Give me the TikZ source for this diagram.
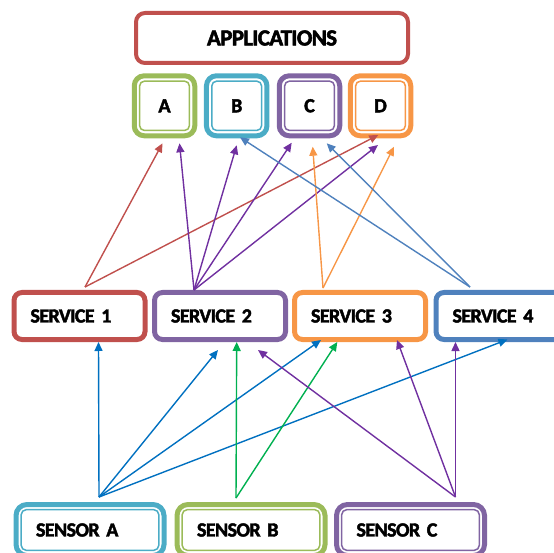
\documentclass[tikz,border=0pt]{standalone}
\usepackage{fontspec}
\setmainfont{Carlito}[BoldFeatures={FakeBold=2.2, LetterSpace=-3, WordSpace=0.6}]
\usetikzlibrary{arrows.meta}
\definecolor{offred}{HTML}{C0504D}
\definecolor{offgreen}{HTML}{9BBB59}
\definecolor{offaqua}{HTML}{4BACC6}
\definecolor{offpurple}{HTML}{8064A2}
\definecolor{offorange}{HTML}{F79646}
\definecolor{offblue}{HTML}{4F81BD}
\definecolor{arrpurple}{HTML}{7030A0}
\definecolor{arrblue}{HTML}{0070C0}
\definecolor{arrgreen}{HTML}{00B050}
\tikzset{
  boxfont/.style={font=\bfseries\fontsize{20}{24}\selectfont},
  appsbox/.style={
    draw=offred, line width=4pt, rounded corners=9pt,
    minimum width=272pt, minimum height=50pt,
    font=\bfseries\fontsize{23}{27}\selectfont
  },
  appbox/.style={
    draw=#1, line width=5pt, rounded corners=10pt,
    minimum width=60.5pt, minimum height=60pt, inner sep=0pt, boxfont,
    path picture={
      \draw[#1, line width=1.5pt, rounded corners=5pt]
        ([xshift=5.3pt,yshift=-5.3pt]path picture bounding box.north west) rectangle
        ([xshift=-5.3pt,yshift=5.3pt]path picture bounding box.south east);
    }
  },
  servicebox/.style={
    draw=#1, line width=5pt, rounded corners=8pt,
    text width=98pt, inner xsep=16.5pt, minimum height=47pt,
    align=left, boxfont
  },
  sensorbox/.style={
    draw=#1, line width=5pt, rounded corners=11pt,
    text width=108pt, inner xsep=20pt, minimum height=51pt,
    align=left, boxfont,
    path picture={
      \draw[#1, line width=1.5pt, rounded corners=5pt]
        ([xshift=5.2pt,yshift=-5.2pt]path picture bounding box.north west) rectangle
        ([xshift=-5.2pt,yshift=5.2pt]path picture bounding box.south east);
    }
  },
  link/.style={
    draw=#1, color=#1, line width=1.4pt,
    -{Triangle[length=9pt, width=8pt]}
  }
}

\begin{document}
\begin{tikzpicture}[x=1pt, y=-1pt]
  \useasboundingbox (0,0) rectangle (554,553);
  \clip (0,0) rectangle (554,553);

  % Applications
  \node[appsbox] (apps) at (272,38) {APPLICATIONS};
  \node[appbox=offgreen] (A) at (164.5,105.8) {A};
  \node[appbox=offaqua] (B) at (236.7,105.8) {B};
  \node[appbox=offpurple] (C) at (309.5,105.8) {C};
  \node[appbox=offorange] (D) at (380.5,105.8) {D};

  % Services
  \node[servicebox=offred] (s1) at (79.5,316) {SERVICE 1};
  \node[servicebox=offpurple] (s2) at (220,316) {SERVICE 2};
  \node[servicebox=offorange] (s3) at (360,316) {SERVICE 3};
  \node[servicebox=offblue] (s4) at (501.5,316) {SERVICE 4};

  % Sensors
  \node[sensorbox=offaqua] (sa) at (90,530) {SENSOR A};
  \node[sensorbox=offgreen] (sb) at (251,530) {SENSOR B};
  \node[sensorbox=offpurple] (sc) at (410.5,530) {SENSOR C};

  % Services -> applications
  \draw[link=offred] ([xshift=5.5pt,yshift=3pt]s1.north) -- ([xshift=-2pt,yshift=-5pt]A.south);
  \draw[link=offred] ([xshift=5.5pt,yshift=3pt]s1.north) -- ([xshift=-2.2pt,yshift=3.3pt]D.south);
  \draw[link=arrpurple] ([xshift=-26pt]s2.north) -- ([xshift=15pt,yshift=-5pt]A.south);
  \draw[link=arrpurple] ([xshift=-26pt]s2.north) -- ([yshift=-7pt]B.south);
  \draw[link=arrpurple] ([xshift=-26pt]s2.north) -- ([xshift=-17.8pt,yshift=-4.4pt]C.south);
  \draw[link=arrpurple] ([xshift=-26pt]s2.north) -- ([xshift=-2.5pt,yshift=-6.7pt]D.south);
  \draw[link=offorange] ([xshift=-37pt,yshift=2pt]s3.north) -- ([xshift=3.2pt,yshift=-8.4pt]C.south);
  \draw[link=offorange] ([xshift=-37pt,yshift=2pt]s3.north) -- ([xshift=13.5pt,yshift=-8.4pt]D.south);
  \draw[link=offblue] ([xshift=-31.5pt,yshift=3pt]s4.north) -- ([xshift=3.3pt,yshift=1pt]B.south);
  \draw[link=offblue] ([xshift=-31.5pt,yshift=3pt]s4.north) -- ([xshift=17.2pt,yshift=-5pt]C.south);

  % Sensors -> services
  \draw[link=arrblue] ([xshift=9pt,yshift=5pt]sa.north) -- ([xshift=19pt]s1.south);
  \draw[link=arrblue] ([xshift=9pt,yshift=5pt]sa.north) -- ([xshift=-2pt,yshift=-8pt]s2.south);
  \draw[link=arrblue] ([xshift=9pt,yshift=5pt]sa.north) -- ([xshift=-39pt,yshift=2pt]s3.south);
  \draw[link=arrblue] ([xshift=9pt,yshift=5pt]sa.north) -- ([xshift=6pt,yshift=2.5pt]s4.south);
  \draw[link=arrgreen] ([xshift=-15pt,yshift=4pt]sb.north) -- ([xshift=16.7pt]s2.south);
  \draw[link=arrgreen] ([xshift=-15pt,yshift=4pt]sb.north) -- ([xshift=-22.7pt]s3.south);
  \draw[link=arrpurple] ([xshift=45pt,yshift=5pt]sc.north) -- ([xshift=38pt,yshift=-8pt]s2.south);
  \draw[link=arrpurple] ([xshift=45pt,yshift=5pt]sc.north) -- ([xshift=37pt,yshift=2pt]s3.south);
  \draw[link=arrpurple] ([xshift=45pt,yshift=5pt]sc.north) -- ([xshift=-46pt]s4.south);
\end{tikzpicture}
\end{document}
